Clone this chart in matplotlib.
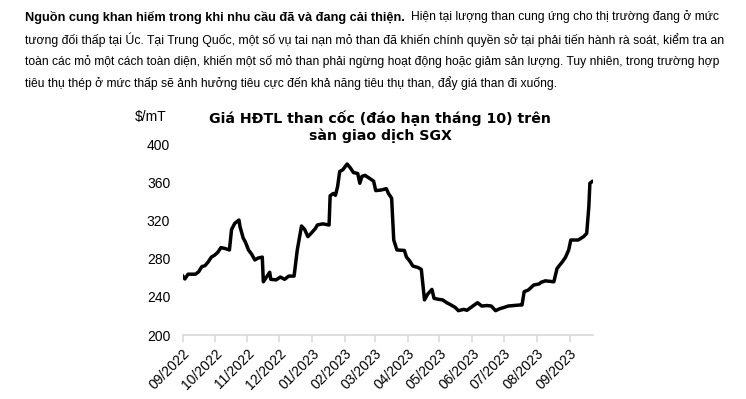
import numpy as np
import pandas as pd
import matplotlib
matplotlib.use("Agg")
import matplotlib.pyplot as plt
import matplotlib.dates as mdates

# Coking coal futures (Oct contract), SGX, $/mT
dates = [
    "2022-09-01", "2022-09-03", "2022-09-06", "2022-09-13", "2022-09-16", "2022-09-19",
    "2022-09-22", "2022-09-25", "2022-09-28", "2022-10-01", "2022-10-04", "2022-10-07",
    "2022-10-11", "2022-10-15", "2022-10-17", "2022-10-20", "2022-10-24", "2022-10-25",
    "2022-10-28", "2022-10-30", "2022-11-02", "2022-11-05", "2022-11-08", "2022-11-11",
    "2022-11-15", "2022-11-16", "2022-11-19", "2022-11-22", "2022-11-23", "2022-11-28",
    "2022-12-02", "2022-12-06", "2022-12-10", "2022-12-15", "2022-12-18", "2022-12-22",
    "2022-12-25", "2022-12-28", "2022-12-31", "2023-01-04", "2023-01-06", "2023-01-11",
    "2023-01-17", "2023-01-18", "2023-01-21", "2023-01-23", "2023-01-25", "2023-01-27",
    "2023-01-30", "2023-02-03", "2023-02-06", "2023-02-09", "2023-02-13", "2023-02-15",
    "2023-02-17", "2023-02-20", "2023-02-24", "2023-02-28", "2023-03-02", "2023-03-07",
    "2023-03-12", "2023-03-14", "2023-03-17", "2023-03-19", "2023-03-22", "2023-03-29",
    "2023-03-31", "2023-04-03", "2023-04-06", "2023-04-11", "2023-04-14", "2023-04-17",
    "2023-04-20", "2023-04-24", "2023-04-26", "2023-04-30", "2023-05-04", "2023-05-08",
    "2023-05-12", "2023-05-16", "2023-05-19", "2023-05-24", "2023-05-27", "2023-06-01",
    "2023-06-06", "2023-06-10", "2023-06-15", "2023-06-19", "2023-06-23", "2023-06-27",
    "2023-07-01", "2023-07-05", "2023-07-10", "2023-07-16", "2023-07-18", "2023-07-20",
    "2023-07-24", "2023-07-29", "2023-08-03", "2023-08-05", "2023-08-09", "2023-08-17",
    "2023-08-20", "2023-08-25", "2023-08-28", "2023-08-31", "2023-09-02", "2023-09-09",
    "2023-09-14", "2023-09-17", "2023-09-19", "2023-09-20", "2023-09-22",
]
prices = [
    262, 259, 264, 264, 266.6, 272,
    273, 277, 282, 284, 287, 292,
    291, 289.5, 311, 317.5, 321, 314,
    302, 298, 289.5, 285, 279, 281,
    282, 256, 261, 266, 258.6, 258,
    261, 258.6, 262, 262, 289.5, 314.7,
    311, 303.5, 307, 312, 315.8, 317,
    315.8, 346.6, 349, 347, 356, 372,
    374, 380, 376, 371, 370, 359.7,
    367, 368, 365, 362, 352, 352.6,
    354, 349, 344, 300, 289.5, 289,
    282, 278, 272.6, 271, 269, 237,
    243, 248, 238.6, 237.6, 237, 234,
    231.6, 229, 225.6, 227, 226, 230,
    234, 230.5, 231, 230.5, 225.6, 227.7,
    229, 230.5, 231, 231.6, 231.6, 245.6,
    247.4, 252.6, 253.7, 255.5, 257, 256,
    270, 277, 281.8, 289.5, 300, 300,
    303.5, 307, 335, 359.7, 361.4,
]
y_ticks = [200, 240, 280, 320, 360, 400]

title = "Giá HĐTL than cốc (đáo hạn tháng 10) trên\nsàn giao dịch SGX"
unit = "$/mT"
para_bold = "Nguồn cung khan hiếm trong khi nhu cầu đã và đang cải thiện."
para_lines = [
    "Hiện tại lượng than cung ứng cho thị trường đang ở mức",
    "tương đối thấp tại Úc. Tại Trung Quốc, một số vụ tai nạn mỏ than đã khiến chính quyền sở tại phải tiến hành rà soát, kiểm tra an",
    "toàn các mỏ một cách toàn diện, khiến một số mỏ than phải ngừng hoạt động hoặc giảm sản lượng. Tuy nhiên, trong trường hợp",
    "tiêu thụ thép ở mức thấp sẽ ảnh hưởng tiêu cực đến khả năng tiêu thụ than, đẩy giá than đi xuống.",
]

plt.rcParams['font.family'] = ['Liberation Sans', 'DejaVu Sans']

fig = plt.figure(figsize=(7.46, 3.99), dpi=100)
ax = fig.add_axes([0.245, 0.1604, 0.55, 0.4762])

x = pd.to_datetime(dates)
ax.plot(x, prices, color='black', linewidth=2.5, solid_joinstyle='round')

ax.set_ylim(200, 400)
ax.set_yticks(y_ticks)
ax.set_xlim(pd.Timestamp("2022-09-01"), pd.Timestamp("2023-09-23"))
ax.xaxis.set_major_locator(mdates.MonthLocator())
ax.xaxis.set_major_formatter(mdates.DateFormatter("%m/%Y"))

for s in ['top', 'right', 'left']:
    ax.spines[s].set_visible(False)
ax.spines['bottom'].set_color('#d9d9d9')
ax.spines['bottom'].set_linewidth(1.2)
ax.tick_params(axis='y', length=0, labelsize=10, pad=9)
ax.tick_params(axis='x', direction='out', length=5, color='#d9d9d9', width=1.2,
               labelsize=10, pad=3)
for lbl in ax.get_xticklabels():
    lbl.set_rotation(45)
    lbl.set_ha('right')
    lbl.set_va('top')
    lbl.set_rotation_mode('anchor')

fig.text(151 / 746, 1 - 117 / 399, unit, ha='center', va='center', fontsize=10)
fig.text(380 / 746, 1 - 126.5 / 399, title, ha='center', va='center', fontsize=10.2,
         fontweight='bold', family=['DejaVu Sans'], linespacing=1.2)

# paragraph above the chart: each piece is sized to span the same width as in the source
renderer = fig.canvas.get_renderer()
W, H = 746, 399


def fitted_text(s, x0, x1, y, **kw):
    t = fig.text(x0 / W, 1 - y / H, s, ha='left', va='center', fontsize=9.2, **kw)
    w = t.get_window_extent(renderer).width
    t.set_fontsize(9.2 * (x1 - x0) / w)
    return t


fitted_text(para_bold, 25, 406, 17, fontweight='bold')
fitted_text(para_lines[0], 411, 719, 17)
fitted_text(para_lines[1], 25, 719, 40)
fitted_text(para_lines[2], 25, 719, 62)
fitted_text(para_lines[3], 25, 553, 83)

fig.savefig("out.png", dpi=100)
